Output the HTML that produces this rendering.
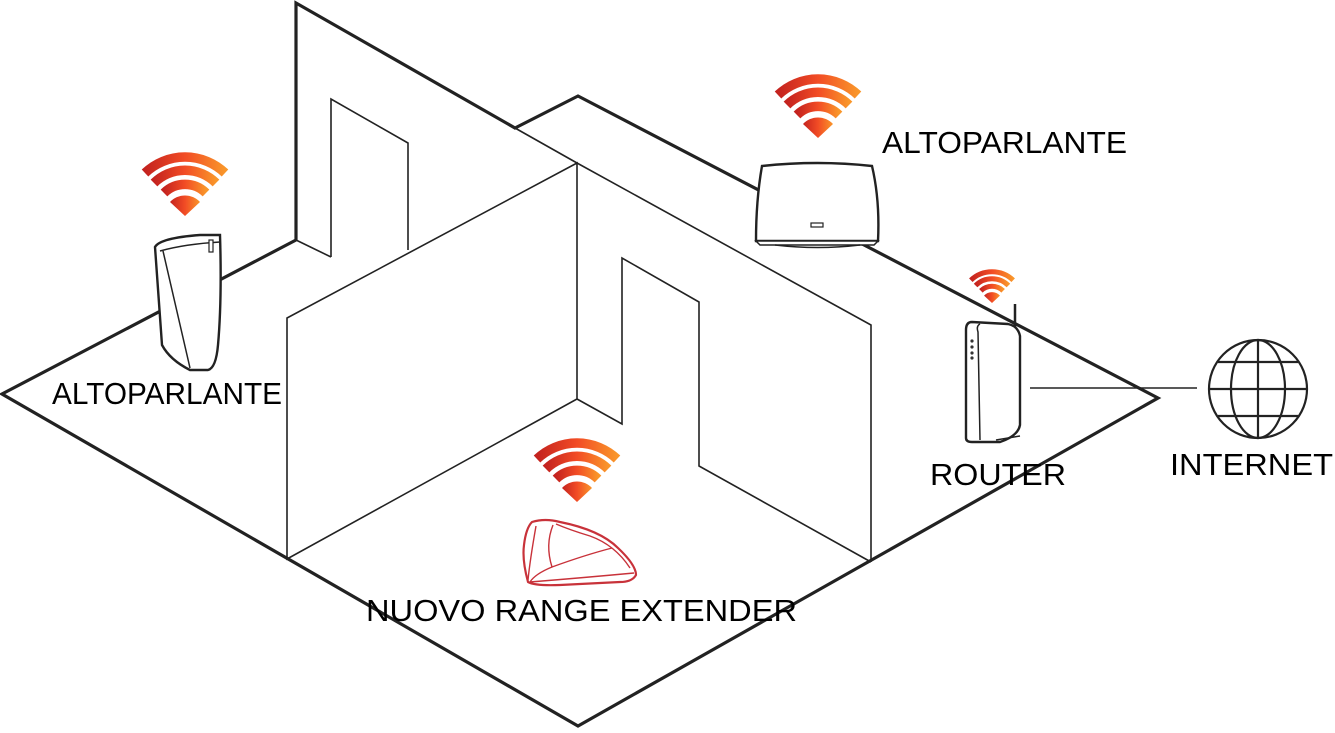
<!DOCTYPE html>
<html><head><meta charset="utf-8"><style>
html,body{margin:0;padding:0;background:#fff;}
svg{display:block;}
text{font-family:"Liberation Sans",Arial,sans-serif;font-size:31px;fill:#000;}
</style></head><body>
<svg width="1335" height="733" viewBox="0 0 1335 733" xmlns="http://www.w3.org/2000/svg">
<defs>
<linearGradient id="g" x1="0" y1="0" x2="1" y2="0">
<stop offset="0" stop-color="#c4231f"/><stop offset="0.5" stop-color="#f24c25"/><stop offset="1" stop-color="#f9962a"/>
</linearGradient>
<g id="wifi">
<path d="M0,0 L-15,-14 A20.5,20.5 0 0 1 15,-14 Z" fill="url(#g)"/>
<path d="M-21,-23 A30,30 0 0 1 21,-23" fill="none" stroke="url(#g)" stroke-width="9.5"/>
<path d="M-31,-33 A44,44 0 0 1 31,-33" fill="none" stroke="url(#g)" stroke-width="9.5"/>
<path d="M-40,-43 A58,58 0 0 1 40,-43" fill="none" stroke="url(#g)" stroke-width="9.5"/>
</g>
</defs>
<g fill="none" stroke="#222" stroke-linejoin="miter">
<g stroke-width="3.2">
<polyline points="296,240 2,394 578,726 1158,398 578,96 515,128 296,3 296,240"/>
</g>
<g stroke-width="1.6">
<line x1="296" y1="240" x2="331" y2="257"/>
<polyline points="331,257 331,99 408,143 408,250"/>
<line x1="515" y1="128" x2="577" y2="163"/>
<polygon points="287,559 287,318 577,163 577,399"/>
<polyline points="577,163 871,325 871,562"/>
<polyline points="577,399 622,424 622,258 699,302 699,466 871,562"/>
<line x1="1030" y1="388" x2="1197" y2="388"/>
</g>
</g>
<g fill="none" stroke="#222" stroke-width="2.2">
<circle cx="1258" cy="389" r="49"/>
<ellipse cx="1258" cy="389" rx="27" ry="49"/>
<line x1="1258" y1="340" x2="1258" y2="438"/>
<line x1="1209" y1="389" x2="1307" y2="389"/>
<line x1="1218" y1="362" x2="1298" y2="362"/>
<line x1="1218" y1="416" x2="1298" y2="416"/>
</g>
<g stroke="#222" stroke-width="2.4" fill="#fff">
<path d="M155,247 Q160,238 200,235 L220,235 Q222,300 218,345 Q216,368 208,370 L190,370 Q170,360 162,345 Z"/>
<path d="M160,251 Q185,244 220,242" fill="none" stroke-width="1.5"/>
<path d="M163,251 L190,368" fill="none" stroke-width="1.5"/>
<rect x="209" y="240" width="4" height="12" stroke-width="1.2"/>
</g>
<g stroke="#222" stroke-width="2.4" fill="#fff">
<path d="M762,166 Q818,160 872,166 Q880,200 878,241 L756,241 Q756,200 762,166 Z"/>
<path d="M756,241 L878,241 L874,245 L760,245 Z" stroke-width="1.5"/>
<path d="M775,245 Q818,250 860,245" fill="none" stroke-width="1.5"/>
<rect x="811" y="223" width="12" height="4" stroke-width="1.2"/>
</g>
<g stroke="#222" stroke-width="2.4" fill="#fff">
<line x1="1015" y1="304" x2="1015" y2="330" stroke-width="2.5"/>
<path d="M972,322 Q966,322 966,330 L966,438 Q966,442 972,442 L1000,442 Q1018,436 1020,425 L1020,336 Q1018,326 1008,324 Z"/>
<path d="M980,324 Q976,326 978,332 L980,440" fill="none" stroke-width="1.5"/>
<path d="M996,440 L1020,436" fill="none" stroke-width="1.5"/>
<g fill="#333" stroke="none"><circle cx="972" cy="341" r="1.6"/><circle cx="972" cy="347" r="1.6"/><circle cx="972" cy="353" r="1.6"/><circle cx="972" cy="358" r="1.6"/></g>
</g>
<g stroke="#c8323a" stroke-width="2.2" fill="#fff" stroke-linejoin="round">
<path d="M532,522 Q545,518 560,522 Q600,530 618,548 Q636,565 636,575 Q632,582 620,582 L560,585 Q535,586 528,582 Q522,560 524,545 Q526,528 532,522 Z"/>
<path d="M536,526 Q530,560 528,580" fill="none" stroke-width="1.4"/>
<path d="M556,524 Q570,530 590,536 Q615,545 630,568" fill="none" stroke-width="1.4"/>
<path d="M553,525 Q545,545 552,567 Q585,555 612,548" fill="none" stroke-width="1.4"/>
<path d="M552,567 Q535,574 530,582" fill="none" stroke-width="1.4"/>
<path d="M530,582 Q580,578 634,573" fill="none" stroke-width="1.4"/>
</g>
<use href="#wifi" transform="translate(185,216)"/>
<use href="#wifi" transform="translate(818,138)"/>
<use href="#wifi" transform="translate(577,502)"/>
<use href="#wifi" transform="translate(992,303) scale(0.53)"/>
<text x="52" y="404" textLength="230" lengthAdjust="spacingAndGlyphs">ALTOPARLANTE</text>
<text x="882" y="153" textLength="245" lengthAdjust="spacingAndGlyphs">ALTOPARLANTE</text>
<text x="930" y="485" textLength="136" lengthAdjust="spacingAndGlyphs">ROUTER</text>
<text x="1170" y="475" textLength="163" lengthAdjust="spacingAndGlyphs">INTERNET</text>
<text x="366" y="621" textLength="431" lengthAdjust="spacingAndGlyphs">NUOVO RANGE EXTENDER</text>
</svg>
</body></html>
